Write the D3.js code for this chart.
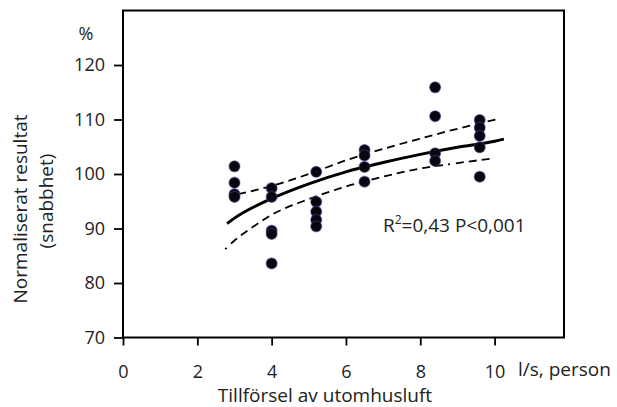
<!DOCTYPE html>
<html>
<head>
<meta charset="utf-8">
<script src="https://cdn.jsdelivr.net/npm/d3@7"></script>
<style>
  html, body { margin: 0; padding: 0; background: #fff; }
  svg { display: block; font-family: "Open Sans", sans-serif; }
</style>
</head>
<body>
<div id="chart"></div>
<script>
// Measured points (l/s per person, normalised result %)
const flowX = [3, 3, 3, 3, 4, 4, 4, 4, 4, 5.2, 5.2, 5.2, 5.2, 5.2, 6.5, 6.5, 6.5, 6.5, 8.4, 8.4, 8.4, 8.4, 9.6, 9.6, 9.6, 9.6, 9.6];
const resultY = [101.4, 98.4, 96.3, 95.8, 97.4, 95.8, 89.6, 89.0, 83.6, 100.4, 94.9, 93.1, 91.6, 90.4, 104.4, 103.4, 101.3, 98.6, 115.9, 110.6, 103.8, 102.4, 109.9, 108.5, 107.0, 104.9, 99.5];

// Fitted curve and confidence band
const fitX = [2.8, 3, 4, 5, 6, 7, 8, 9, 10, 10.25];
const fitY = [90.9, 91.9, 95.5, 98.2, 100.4, 102.1, 103.6, 104.9, 106.0, 106.4];
const upperX = [3.1, 4, 5, 6, 7, 8, 9, 10.1];
const upperY = [96.3, 97.8, 100.0, 102.5, 104.6, 106.5, 108.3, 110.1];
const lowerX = [2.75, 3, 3.5, 4, 5, 6, 7, 8, 9, 10];
const lowerY = [86.2, 87.8, 90.3, 92.5, 95.4, 97.7, 99.5, 101.0, 102.0, 102.9];

const xTicks = [0, 2, 4, 6, 8, 10];
const yTicks = [70, 80, 90, 100, 110, 120];

const width = 617, height = 407;
const plot = { left: 123, top: 10.5, right: 564, bottom: 337.5 };

const svg = d3.select("#chart").append("svg")
  .attr("width", width).attr("height", height);

const x = d3.scaleLinear().domain([0, 12]).range([plot.left, plot.left + 12 * 37.16]);
const y = d3.scaleLinear().domain([70, 130]).range([plot.bottom, plot.top]);

// plot frame
svg.append("rect")
  .attr("x", plot.left).attr("y", plot.top)
  .attr("width", plot.right - plot.left).attr("height", plot.bottom - plot.top)
  .attr("fill", "none").attr("stroke", "#000").attr("stroke-width", 2);

// axes
const yAxis = svg.append("g")
  .attr("transform", `translate(${plot.left},0)`)
  .call(d3.axisLeft(y).tickValues(yTicks).tickSize(9).tickPadding(9));
const xAxis = svg.append("g")
  .attr("transform", `translate(0,${plot.bottom})`)
  .call(d3.axisBottom(x).tickValues(xTicks).tickSize(8).tickPadding(20));

[yAxis, xAxis].forEach((g) => {
  g.select(".domain").remove();
  g.selectAll(".tick line").attr("stroke", "#000").attr("stroke-width", 1.8);
  g.selectAll(".tick text")
    .attr("fill", "#222")
    .style("font-size", "18px")
    .style("font-family", "'Open Sans', sans-serif");
});

// fit + confidence band
const line = d3.line().x((d) => x(d[0])).y((d) => y(d[1])).curve(d3.curveMonotoneX);

svg.append("path")
  .datum(d3.zip(upperX, upperY))
  .attr("d", line)
  .attr("fill", "none").attr("stroke", "#000")
  .attr("stroke-width", 1.8).attr("stroke-dasharray", "8,5");

svg.append("path")
  .datum(d3.zip(lowerX, lowerY))
  .attr("d", line)
  .attr("fill", "none").attr("stroke", "#000")
  .attr("stroke-width", 1.8).attr("stroke-dasharray", "2,6,8,5,8,5,8,5,8,5,8,5,8,5,8,5,8,5,8,5,8,5,8,5,8,5,8,5,8,5,8,5,8,5,8,5,8,5");

svg.append("path")
  .datum(d3.zip(fitX, fitY))
  .attr("d", line)
  .attr("fill", "none").attr("stroke", "#000")
  .attr("stroke-width", 3);

// points
svg.append("g")
  .selectAll("circle")
  .data(d3.zip(flowX, resultY))
  .join("circle")
  .attr("cx", (d) => x(d[0]))
  .attr("cy", (d) => y(d[1]))
  .attr("r", 5.5)
  .attr("fill", "#08070f")
  .attr("stroke", "#4a4296")
  .attr("stroke-opacity", 0.5)
  .attr("stroke-width", 1.2);

// labels
const label = (tx, ty, txt, anchor = "middle") =>
  svg.append("text")
    .attr("x", tx).attr("y", ty)
    .attr("text-anchor", anchor)
    .attr("fill", "#222")
    .style("font-size", "19px")
    .text(txt);

label(86, 40, "%").style("font-size", "18px");
label(518, 376, "l/s, person", "start");
label(325, 402, "Tillförsel av utomhusluft");

const stat = svg.append("text")
  .attr("x", 383).attr("y", 232)
  .attr("fill", "#222")
  .style("font-size", "19px");
stat.append("tspan").text("R");
stat.append("tspan").attr("dy", -8).style("font-size", "12px").text("2");
stat.append("tspan").attr("dy", 8).text("=0,43 P<0,001");

const yTitle = svg.append("text")
  .attr("transform", "rotate(-90)")
  .attr("text-anchor", "middle")
  .attr("fill", "#222")
  .style("font-size", "19px");
yTitle.append("tspan").attr("x", -209).attr("y", 27).text("Normaliserat resultat");
yTitle.append("tspan").attr("x", -201).attr("y", 53).text("(snabbhet)");
</script>
</body>
</html>
